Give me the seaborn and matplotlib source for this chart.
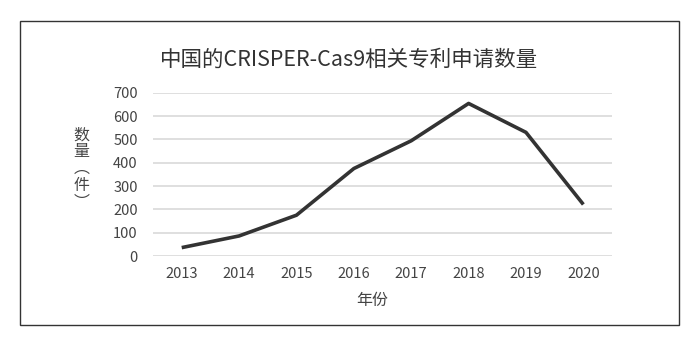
import matplotlib
matplotlib.use("Agg")
import matplotlib.pyplot as plt
import seaborn as sns
import pandas as pd
from matplotlib.patches import Rectangle

years = ["2013", "2014", "2015", "2016", "2017", "2018", "2019", "2020"]
counts = [36, 86, 175, 375, 494, 654, 530, 221]
y_ticks = [0, 100, 200, 300, 400, 500, 600, 700]

title = "中国的CRISPER-Cas9相关专利申请数量"
x_label = "年份"
y_label = "数\n量\n︵\n件\n︶"

sns.set_style("white")
plt.rcParams["font.family"] = ["Noto Sans CJK SC", "DejaVu Sans"]

df = pd.DataFrame({"year": years, "count": counts})

fig = plt.figure(figsize=(6.94, 3.39), dpi=100)
ax = fig.add_axes([0.2205, 0.2448, 0.6614, 0.4817])

sns.lineplot(data=df, x="year", y="count", ax=ax, color="#333333",
             linewidth=2.6, sort=False, solid_joinstyle="round",
             solid_capstyle="butt")

ax.set_xlim(-0.5, len(years) - 0.5)
ax.set_ylim(0, 700)
ax.set_yticks(y_ticks)
ax.yaxis.grid(True, color="#d9d9d9", linewidth=1.2)
ax.xaxis.grid(False)
for s in ax.spines.values():
    s.set_visible(False)
ax.tick_params(axis="both", length=0, labelsize=10.5, labelcolor="#444444")
ax.tick_params(axis="y", pad=11)
ax.tick_params(axis="x", pad=8)
ax.set_xlabel("")
ax.set_ylabel("")

fig.text(0.503, 0.823, title, ha="center", va="center", fontsize=15.5,
         color="#333333")
fig.text(0.537, 0.115, x_label, ha="center", va="center", fontsize=11.5,
         color="#444444")
fig.text(0.117, 0.502, y_label, ha="center", va="center", fontsize=11.5,
         color="#444444", linespacing=1.0)

fig.patches.append(Rectangle((20 / 694, 1 - 325 / 339), 659 / 694, 304 / 339,
                             transform=fig.transFigure, fill=False,
                             edgecolor="#333333", linewidth=1.0))

fig.savefig("out.png", dpi=100, facecolor="white")
